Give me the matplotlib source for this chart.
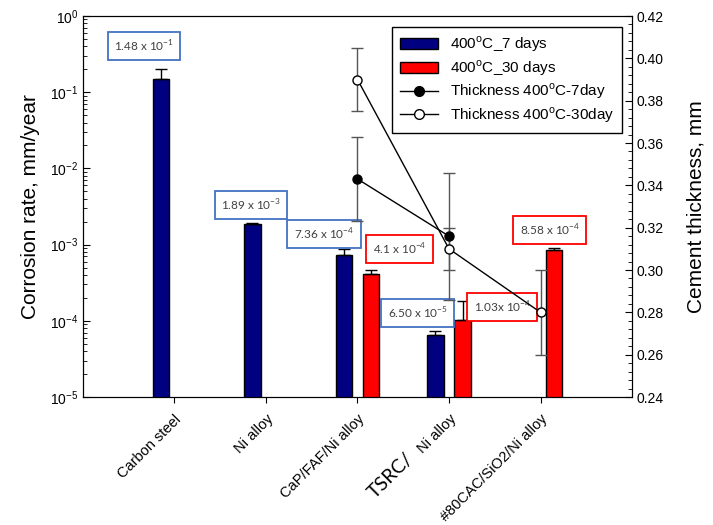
import numpy as np
import matplotlib
matplotlib.use('Agg')
from matplotlib import pyplot as plt
from matplotlib.lines import Line2D
from matplotlib.patches import Patch
from matplotlib.ticker import MultipleLocator

plt.rcParams['font.family'] = ['Liberation Sans', 'DejaVu Sans']

# categories on the x axis
categories = ['Carbon steel', 'Ni alloy', 'CaP/FAF/Ni alloy', 'Ni alloy', '#80CAC/SiO2/Ni alloy']
x = np.arange(1, len(categories) + 1)

# corrosion rate, mm/year (left log axis)
rate_7d = np.array([1.48e-1, 1.89e-3, 7.36e-4, 6.50e-5, np.nan])
rate_7d_err = np.array([5.2e-2, 6e-5, 1.4e-4, 9e-6, np.nan])
rate_30d = np.array([np.nan, np.nan, 4.1e-4, 1.03e-4, 8.58e-4])
rate_30d_err = np.array([np.nan, np.nan, 5.5e-5, 7.7e-5, 5.5e-5])

# cement thickness, mm (right axis)
thick_x_7d = [3, 4]
thick_7d = [0.343, 0.316]
thick_7d_err = [0.020, 0.030]
thick_x_30d = [3, 4, 5]
thick_30d = [0.390, 0.310, 0.280]
thick_30d_err = [0.015, 0.010, 0.020]

# value boxes: text, x position, log10 of y position, border colour
box_text = ['1.48 x 10$^{\\mathregular{-1}}$', '1.89 x 10$^{\\mathregular{-3}}$',
            '7.36 x 10$^{\\mathregular{-4}}$', '4.1 x 10$^{\\mathregular{-4}}$',
            '6.50 x 10$^{\\mathregular{-5}}$', '1.03x 10$^{\\mathregular{-4}}$',
            '8.58 x 10$^{\\mathregular{-4}}$']
box_x = [0.667, 1.836, 2.634, 3.46, 3.66, 4.58, 5.10]
box_logy = [-0.394, -2.48, -2.86, -3.06, -3.90, -3.82, -2.81]
box_color = ['#4472C4', '#4472C4', '#4472C4', 'red', '#4472C4', 'red', 'red']

fig = plt.figure(figsize=(7.13, 5.25), dpi=100)
ax = fig.add_subplot(111)
fig.subplots_adjust(left=0.1164, right=0.8864, top=0.9695, bottom=0.2438)

w = 0.18
off = 0.15
m7 = ~np.isnan(rate_7d)
m30 = ~np.isnan(rate_30d)
ekw = dict(capsize=4, elinewidth=1, capthick=1, ecolor='black')
ax.bar(x[m7] - off, rate_7d[m7], w, color='#000080', edgecolor='black', linewidth=1,
       yerr=[np.zeros(m7.sum()), rate_7d_err[m7]], error_kw=ekw, zorder=2)
ax.bar(x[m30] + off, rate_30d[m30], w, color='#FF0000', edgecolor='black', linewidth=1,
       yerr=[np.zeros(m30.sum()), rate_30d_err[m30]], error_kw=ekw, zorder=2)

ax.set_yscale('log')
ax.set_ylim(1e-5, 1)
ax.set_xlim(0, 6)
ax.set_xticks(x)
ax.set_xticklabels(categories, rotation=45, ha='right', rotation_mode='anchor', fontsize=10.5)
ax.tick_params(axis='x', direction='out', length=4, top=False, pad=7)
ax.tick_params(axis='y', which='major', direction='in', length=5, labelsize=10)
ax.tick_params(axis='y', which='minor', direction='in', length=3)
ax.set_ylabel('Corrosion rate, mm/year', fontsize=15, labelpad=7)

for t, bx, by, c in zip(box_text, box_x, box_logy, box_color):
    ax.text(bx, 10 ** by, t, ha='center', va='center', fontsize=8.5, family='Lato', color='#404040',
            bbox=dict(boxstyle='square,pad=0.55', facecolor='white', edgecolor=c, linewidth=1.3), zorder=3)

ax.text(3.365, -0.205, 'TSRC/', transform=ax.get_xaxis_transform(), rotation=45, ha='center', va='center',
        fontsize=14, family='Lato')

ax2 = ax.twinx()
ax2.errorbar(thick_x_7d, thick_7d, yerr=thick_7d_err, color='black', marker='o', markersize=6.5,
             markerfacecolor='black', markeredgecolor='black', linewidth=1, ecolor='#555555',
             elinewidth=1, capsize=4.5, capthick=1)
ax2.errorbar(thick_x_30d, thick_30d, yerr=thick_30d_err, color='black', marker='o', markersize=6.5,
             markerfacecolor='white', markeredgecolor='black', linewidth=1, ecolor='#555555',
             elinewidth=1, capsize=4.5, capthick=1)
ax2.set_ylim(0.24, 0.42)
ax2.yaxis.set_major_locator(MultipleLocator(0.02))
ax2.yaxis.set_minor_locator(MultipleLocator(0.004))
ax2.yaxis.set_major_formatter(matplotlib.ticker.FormatStrFormatter('%.2f'))
ax2.tick_params(axis='y', which='major', direction='in', length=5, labelsize=10)
ax2.tick_params(axis='y', which='minor', direction='in', length=3)
ax2.set_ylabel('Cement thickness, mm', fontsize=15, labelpad=16)

handles = [Patch(facecolor='#000080', edgecolor='black'),
           Patch(facecolor='#FF0000', edgecolor='black'),
           Line2D([], [], color='black', marker='o', markersize=7, markerfacecolor='black', linewidth=1),
           Line2D([], [], color='black', marker='o', markersize=7, markerfacecolor='white', linewidth=1)]
labels = ['400$^{\\mathregular{o}}$C_7 days', '400$^{\\mathregular{o}}$C_30 days',
          'Thickness 400$^{\\mathregular{o}}$C-7day', 'Thickness 400$^{\\mathregular{o}}$C-30day']
leg = ax2.legend(handles, labels, loc='upper right', bbox_to_anchor=(0.982, 0.971), borderaxespad=0,
                 fontsize=11, fancybox=False, edgecolor='black', framealpha=1, handlelength=2.5,
                 labelspacing=0.25, borderpad=0.5)
leg.get_frame().set_linewidth(1)

fig.savefig('out.png', dpi=100)
